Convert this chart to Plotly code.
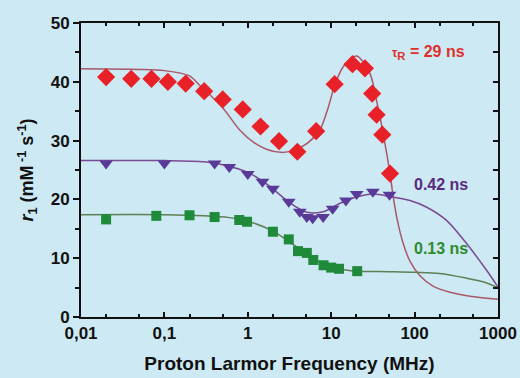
import numpy as np
import plotly.graph_objects as go

# ---- measured points ----
red_f = [0.02, 0.04, 0.07, 0.11, 0.18, 0.3, 0.5, 0.87, 1.42, 2.37, 3.93, 6.6, 11, 18, 25.4, 31, 35, 41, 50.7]
red_r = [40.8, 40.5, 40.5, 40.0, 39.7, 38.4, 37.0, 35.3, 32.4, 29.9, 28.1, 31.6, 39.6, 43.0, 42.3, 38.0, 34.4, 31.0, 24.4]

pur_f = [0.02, 0.1, 0.4, 0.6, 1.0, 1.5, 2.0, 3.1, 4.2, 5.1, 6.0, 8.0, 10.4, 15, 20.2, 31.6, 50]
pur_r = [26.1, 26.1, 26.1, 25.5, 24.3, 23.0, 21.8, 19.6, 17.9, 17.0, 16.8, 17.0, 18.4, 19.8, 20.9, 21.3, 20.8]

grn_f = [0.02, 0.08, 0.2, 0.4, 0.79, 0.98, 2.0, 3.1, 4.0, 5.1, 6.1, 8.1, 10, 12.4, 20.5]
grn_r = [16.6, 17.2, 17.3, 17.0, 16.5, 16.2, 14.5, 13.2, 11.2, 10.9, 9.7, 8.8, 8.4, 8.2, 7.8]

# ---- fitted curves ----
redc_f = [0.01, 0.05, 0.1, 0.2, 0.27, 0.5, 0.8, 1.2, 1.7, 2.5, 3.5, 5.1, 7.3, 9.2, 11, 14, 20.2, 29.2, 35, 42, 50.7, 55, 61, 73, 88, 116, 168, 266, 422, 1000]
redc_r = [42.2, 42.1, 41.9, 41.0, 39.3, 35.6, 31.8, 29.6, 28.5, 28.0, 28.3, 29.5, 31.8, 35.6, 39.4, 42.6, 44.4, 41.4, 36.8, 31.2, 24.4, 20.8, 17.0, 12.5, 9.5, 7.0, 5.2, 4.2, 3.6, 3.0]

purc_f = [0.01, 0.1, 0.3, 0.5, 1.0, 1.5, 2.0, 3.2, 5.1, 8.0, 12.6, 20.2, 32, 50.7, 88, 138, 243, 420, 733, 1000]
purc_r = [26.6, 26.6, 26.4, 25.9, 24.6, 23.1, 21.8, 19.4, 17.8, 17.9, 19.3, 20.4, 20.9, 20.5, 19.8, 18.7, 16.4, 12.5, 7.9, 5.1]

grnc_f = [0.01, 0.1, 0.3, 0.6, 1.0, 2.0, 3.0, 5.0, 8.0, 12, 20, 50, 100, 200, 422, 660, 1000]
grnc_r = [17.4, 17.4, 17.2, 16.9, 16.3, 14.6, 13.0, 10.8, 9.0, 8.2, 7.8, 7.7, 7.6, 7.4, 6.6, 6.0, 5.0]

x_tickvals = [0.01, 0.1, 1, 10, 100, 1000]
x_ticktext = ["0,01", "0,1", "1", "10", "100", "1000"]
y_tickvals = [0, 10, 20, 30, 40, 50]

BG = "#cde9f3"
FONT = "Liberation Sans, Arial, sans-serif"

fig = go.Figure()

fig.add_trace(go.Scatter(x=redc_f, y=redc_r, mode="lines", line=dict(color="#a8586a", width=1.5, shape="spline", smoothing=0.8), hoverinfo="skip"))
fig.add_trace(go.Scatter(x=purc_f, y=purc_r, mode="lines", line=dict(color="#7a4a90", width=1.5, shape="spline", smoothing=0.8), hoverinfo="skip"))
fig.add_trace(go.Scatter(x=grnc_f, y=grnc_r, mode="lines", line=dict(color="#5f7f55", width=1.5, shape="spline", smoothing=0.8), hoverinfo="skip"))

fig.add_trace(go.Scatter(x=red_f, y=red_r, mode="markers", marker=dict(symbol="diamond", size=14, color="#e82028", line=dict(width=0))))
fig.add_trace(go.Scatter(x=pur_f, y=pur_r, mode="markers", marker=dict(symbol="triangle-down", size=12, color="#5a3a98", line=dict(width=0))))
fig.add_trace(go.Scatter(x=grn_f, y=grn_r, mode="markers", marker=dict(symbol="square", size=10, color="#1e8a3a", line=dict(width=0))))

# invisible trace for right-side inner ticks axis
fig.add_trace(go.Scatter(x=[0.01], y=[0], yaxis="y2", mode="markers", marker=dict(opacity=0), hoverinfo="skip"))

fig.update_layout(
    width=520, height=378,
    margin=dict(l=81, r=22, t=23, b=61),
    paper_bgcolor=BG, plot_bgcolor=BG,
    showlegend=False,
    font=dict(family=FONT, color="#111111"),
    xaxis=dict(
        type="log", range=[-2, 3], automargin=False,
        tickvals=x_tickvals, ticktext=x_ticktext,
        ticks="inside", ticklen=5, tickwidth=1.5, tickcolor="#111",
        minor=dict(ticks="inside", ticklen=3, tickcolor="#111", showgrid=False),
        showline=True, linecolor="#111", linewidth=2, mirror="ticks",
        showgrid=False, zeroline=False,
        tickfont=dict(size=17, family=FONT, weight="bold"),
        title=dict(text="Proton Larmor Frequency (MHz)", font=dict(size=19, family=FONT, weight="bold"), standoff=14),
    ),
    yaxis=dict(
        range=[0, 50], tickvals=y_tickvals, automargin=False,
        ticks="outside", ticklen=6, tickwidth=1.5, tickcolor="#111",
        minor=dict(ticks="outside", ticklen=4, dtick=5, tickcolor="#111", showgrid=False),
        showline=True, linecolor="#111", linewidth=2, mirror=True,
        showgrid=False, zeroline=False,
        tickfont=dict(size=17, family=FONT, weight="bold"),
        title=dict(text="<i>r</i><sub>1</sub> (mM<sup> -1</sup> s<sup>-1</sup>)", font=dict(size=18, family=FONT, weight="bold"), standoff=12),
    ),
    yaxis2=dict(
        overlaying="y", side="right", range=[0, 50], dtick=5, automargin=False,
        ticks="inside", ticklen=5, tickwidth=1.5, tickcolor="#111",
        showticklabels=False, showgrid=False, zeroline=False, showline=False,
    ),
    annotations=[
        dict(x=np.log10(50.7), y=45, xref="x", yref="y",
             text="<span style='font-size:12px'>τ</span><sub>R</sub> = 29 ns", showarrow=False,
             xanchor="left", yanchor="middle", font=dict(size=16, color="#e0302c", family=FONT, weight="bold")),
        dict(x=np.log10(92), y=22.6, xref="x", yref="y", text="0.42 ns", showarrow=False,
             xanchor="left", yanchor="middle", font=dict(size=16, color="#5a2a7e", family=FONT, weight="bold")),
        dict(x=np.log10(92), y=11.7, xref="x", yref="y", text="0.13 ns", showarrow=False,
             xanchor="left", yanchor="middle", font=dict(size=16, color="#2e8a30", family=FONT, weight="bold")),
    ],
)

fig.write_html("out.html")
